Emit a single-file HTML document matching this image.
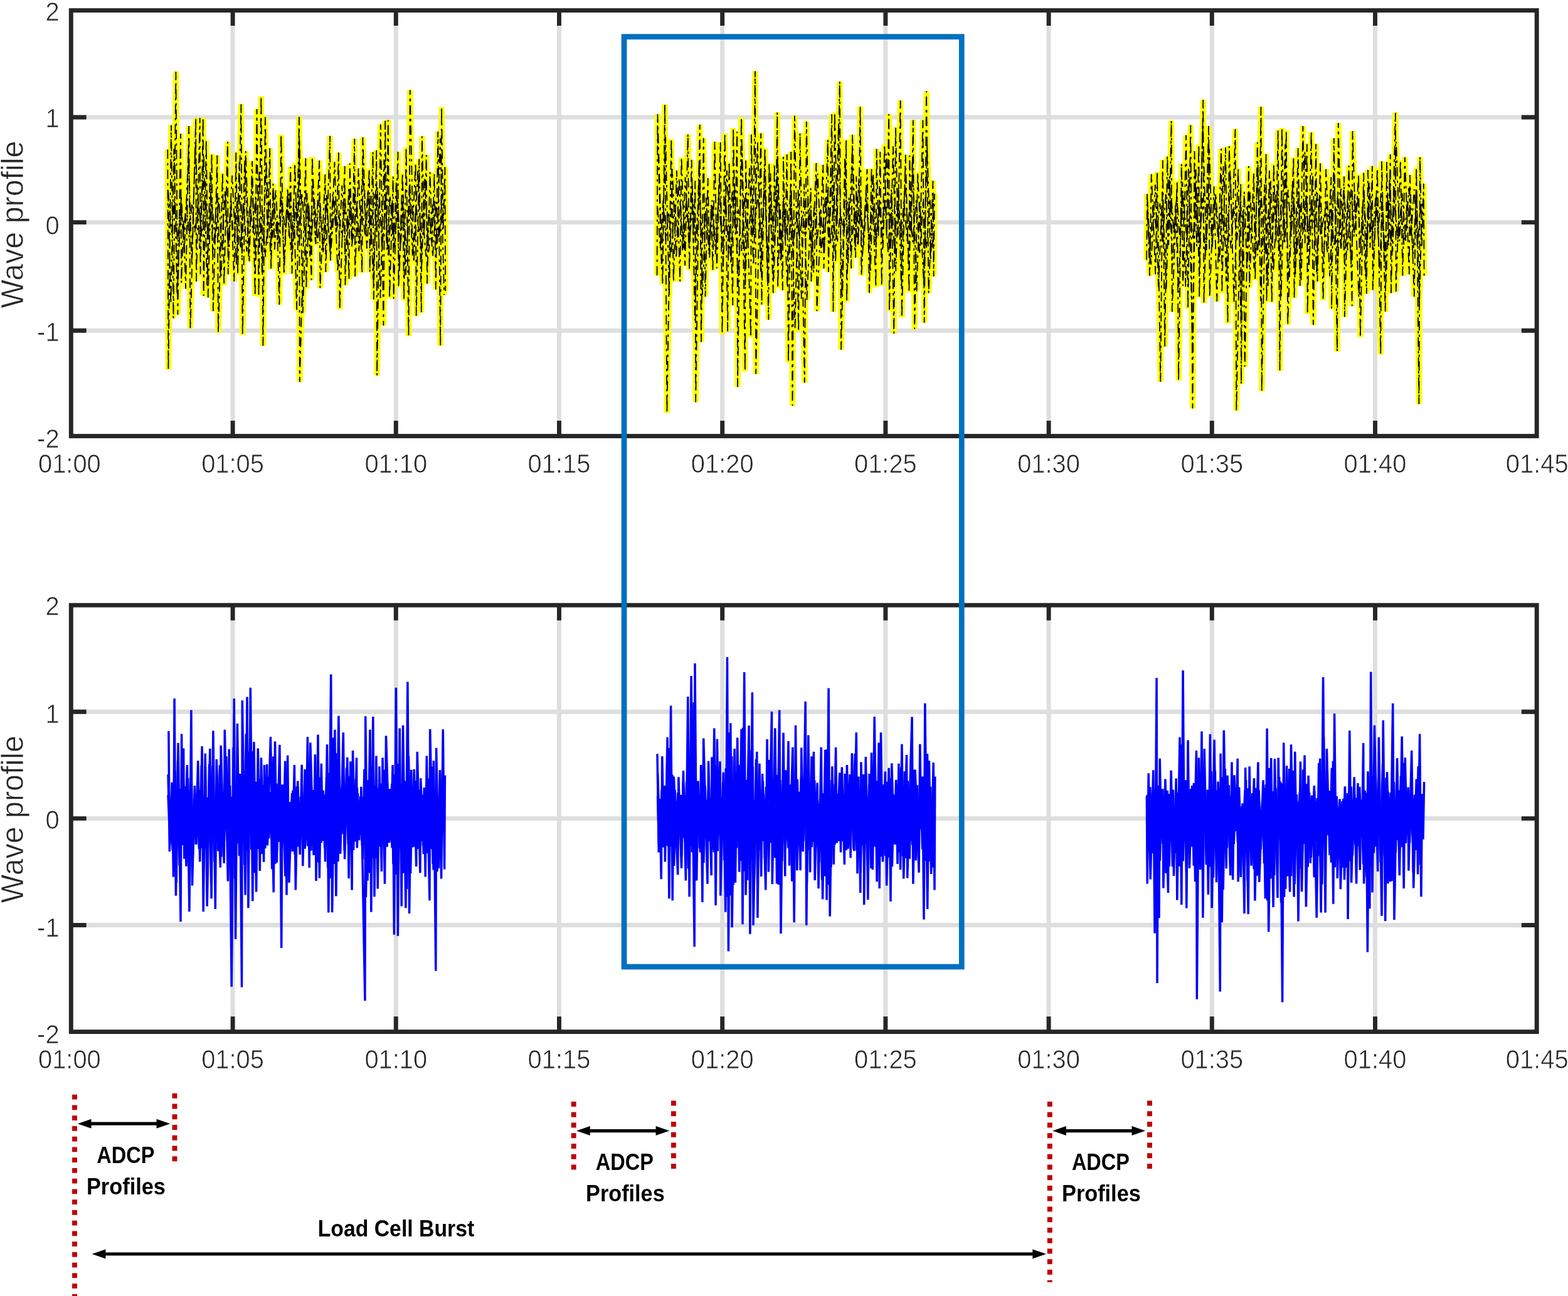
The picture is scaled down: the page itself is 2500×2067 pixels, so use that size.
<!DOCTYPE html>
<html lang="en"><head><meta charset="utf-8"><title>Wave profile bursts</title>
<style>html,body{margin:0;padding:0;background:#fff}body{width:2500px;height:2067px;overflow:hidden}svg{display:block}text{font-family:"Liberation Sans",sans-serif}.tk{font-size:42px;fill:#262626;stroke:#fff;stroke-width:.7px}.lb{font-size:50px;fill:#262626;stroke:#fff;stroke-width:.7px}.an{font-weight:bold;fill:#000}</style>
</head><body>
<svg xmlns="http://www.w3.org/2000/svg" width="2500" height="2067" viewBox="0 0 2500 2067">
<rect width="2500" height="2067" fill="#fff"/>
<path d="M371.1 16.6V695.5M631.3 16.6V695.5M891.5 16.6V695.5M1151.7 16.6V695.5M1411.9 16.6V695.5M1672.1 16.6V695.5M1932.3 16.6V695.5M2192.5 16.6V695.5M113.3 187.0H2450.2M113.3 354.6H2450.2M113.3 527.3H2450.2" stroke="#dedede" stroke-width="6.9" fill="none"/>
<path d="M268.0 303.9 273.8 370.8 277.9 320.4 283.8 385.1 288.2 325.2 292.2 378.6 297.1 322.2 301.6 379.0 306.0 323.7 310.6 370.5 316.3 319.8 321.6 377.1 327.5 307.4 331.8 383.1 337.2 313.5 343.1 386.8 348.8 315.1 353.4 393.5 359.1 308.0 364.1 393.6 368.2 332.5 373.8 386.5 378.2 320.1 383.6 397.0 388.3 324.5 393.3 401.3 398.4 326.4 403.4 370.8 407.4 313.8 413.4 393.7 418.2 335.5 423.2 409.6 428.7 320.4 434.5 379.0 439.5 303.6 444.6 388.3 449.2 320.1 455.1 369.8 460.7 309.0 466.4 399.7 472.1 321.3 477.2 386.9 481.3 307.0 486.4 377.7 491.4 322.7 496.1 383.7 501.2 317.0 506.5 388.2 510.5 333.1 514.9 393.4 520.6 309.9 526.2 402.8 530.7 308.1 536.0 373.0 540.1 341.8 545.6 379.7 549.8 317.0 554.5 372.4 558.8 320.9 563.1 380.7 568.6 323.9 573.2 388.9 577.3 326.7 582.1 377.2 586.3 305.8 591.3 378.1 596.5 309.1 600.6 370.3 604.9 313.1 609.2 398.3 614.6 320.2 619.0 409.3 624.6 321.4 629.0 396.0 633.8 319.0 638.5 395.3 642.6 330.3 648.5 405.2 653.1 307.5 657.8 407.8 663.2 325.5 667.8 369.9 673.5 340.9 679.2 408.8 684.3 335.4 690.0 409.2 695.4 321.7 700.2 383.7 704.6 315.0M268.0 306.2 272.4 484.7 277.4 237.3 282.4 470.5 289.0 311.5 293.7 404.7 300.5 243.3 305.6 418.6 311.5 229.2 318.2 396.6 324.8 247.0 330.2 455.3 335.0 274.3 339.4 410.6 346.0 310.8 352.2 444.0 358.7 303.9 363.7 393.9 370.2 279.7 377.0 423.5 381.5 258.2 385.9 410.1 390.2 254.5 396.5 410.2 401.6 292.3 407.8 415.1 413.5 273.9 417.9 435.7 424.5 259.2 431.1 401.6 436.0 307.5 442.4 385.1 448.4 307.0 452.8 420.1 457.1 326.3 463.9 398.8 468.3 319.1 473.1 494.2 477.5 222.7 482.7 499.1 489.3 308.0 494.2 409.1 498.6 286.5 502.8 385.5 509.6 310.1 515.4 404.1 520.4 324.8 527.0 407.5 533.8 320.4 538.5 433.7 545.3 295.8 551.3 420.1 556.2 299.4 561.2 394.0 565.5 295.5 572.3 400.6 578.3 267.3 585.0 396.4 589.9 312.0 594.9 445.5 601.5 298.2 606.6 475.6 612.3 254.3 617.1 398.8 621.9 311.8 627.5 396.4 631.8 290.7 636.8 433.7 642.2 291.3 646.8 438.8 653.1 286.7 659.8 418.6 666.1 272.0 672.5 422.2 676.9 285.1 683.6 401.3 690.1 325.7 696.8 397.1 701.8 220.6 708.1 470.6M1048.6 331.9 1052.7 395.9 1057.5 319.2 1061.6 384.0 1065.9 337.3 1070.4 403.3 1075.2 326.1 1080.4 379.1 1084.5 320.9 1089.5 396.0 1094.3 314.5 1099.8 379.3 1104.8 322.9 1109.2 386.4 1114.4 305.5 1120.2 380.8 1125.5 340.5 1129.6 390.4 1135.4 335.9 1140.9 405.5 1145.5 314.2 1151.2 384.7 1156.6 312.4 1161.8 404.5 1167.6 303.3 1172.8 376.8 1177.3 333.6 1182.4 400.4 1186.5 314.7 1191.9 383.7 1197.0 335.7 1202.4 371.2 1208.4 309.5 1213.7 380.5 1219.5 303.3 1223.8 401.2 1229.4 315.6 1234.8 387.7 1240.7 302.9 1245.5 402.3 1250.3 335.7 1255.0 374.7 1260.8 303.3 1265.0 394.0 1269.8 337.6 1274.4 379.7 1279.9 342.3 1284.3 387.4 1288.4 316.9 1293.6 403.6 1298.0 330.8 1303.1 380.7 1308.2 332.2 1313.6 401.8 1319.2 302.8 1324.3 389.6 1330.0 311.1 1335.2 385.2 1339.7 338.0 1345.3 374.4 1350.8 320.2 1356.8 400.6 1362.7 336.9 1367.7 392.9 1372.3 321.9 1377.1 391.1 1381.1 324.4 1386.0 382.0 1390.8 310.5 1396.1 389.6 1401.4 327.0 1405.8 369.7 1410.4 318.1 1416.1 403.4 1421.2 302.2 1426.1 403.6 1430.9 312.1 1436.9 382.0 1441.2 317.2 1446.3 384.2 1450.3 326.6 1455.1 386.1 1460.9 318.6 1466.3 406.1 1471.8 322.4 1477.3 395.7 1482.6 316.8 1487.4 395.2M1048.6 214.0 1054.9 429.0 1061.1 218.8 1066.9 470.1 1071.8 269.5 1078.3 411.8 1082.8 284.1 1088.3 400.6 1092.6 282.5 1098.7 395.7 1103.8 293.8 1108.0 511.0 1114.7 257.4 1120.0 470.0 1125.8 315.1 1130.5 406.1 1135.3 319.2 1141.7 398.9 1146.9 280.9 1153.0 425.2 1158.9 271.9 1165.3 421.6 1171.1 291.9 1176.8 457.9 1183.1 231.9 1188.1 455.3 1194.9 268.0 1201.3 423.3 1207.9 227.2 1212.9 435.3 1219.1 267.5 1223.8 452.9 1228.4 276.4 1233.7 444.6 1239.8 246.6 1244.7 418.2 1249.2 316.1 1255.3 455.9 1261.5 305.5 1267.6 523.5 1272.5 301.0 1277.8 476.7 1282.2 293.3 1286.4 479.1 1293.0 331.9 1297.2 434.9 1303.6 276.8 1309.4 403.6 1315.8 315.2 1321.9 386.4 1327.1 256.3 1332.2 418.6 1337.0 194.7 1342.4 473.5 1347.1 250.4 1352.1 422.4 1358.8 236.7 1363.0 398.8 1369.5 284.9 1374.7 409.6 1381.3 305.0 1387.9 434.5 1392.4 276.9 1396.6 394.8 1402.5 318.0 1407.7 395.8 1413.1 245.2 1419.7 404.4 1424.0 233.3 1428.3 432.6 1432.7 293.2 1436.9 455.4 1443.1 277.4 1449.5 429.6 1454.7 256.7 1461.5 464.9 1466.3 318.7 1473.0 455.4 1478.1 231.1 1483.8 415.3 1488.1 323.7M1829.2 340.3 1833.4 402.7 1838.3 327.3 1844.3 371.2 1849.4 324.4 1853.6 385.7 1859.0 306.5 1863.1 390.9 1867.3 309.8 1871.4 371.0 1876.2 312.6 1880.8 374.9 1886.4 309.6 1892.1 381.9 1897.0 332.4 1902.1 383.0 1906.8 310.5 1912.7 393.4 1916.9 315.8 1921.8 409.8 1927.2 308.4 1932.6 391.4 1938.4 308.6 1943.0 376.0 1947.8 321.2 1952.0 383.6 1957.1 340.6 1962.7 396.1 1967.4 330.3 1972.1 382.8 1977.6 322.0 1982.6 375.6 1988.4 329.2 1993.1 372.4 1999.1 322.9 2004.9 407.4 2010.8 309.2 2016.7 407.1 2022.3 336.9 2027.3 393.0 2033.3 310.5 2038.7 400.0 2043.4 304.0 2048.7 386.0 2053.7 302.5 2058.7 376.4 2063.0 314.4 2068.1 406.5 2072.5 325.7 2078.0 371.6 2082.2 320.2 2086.7 373.9 2091.2 316.7 2096.3 372.8 2100.4 307.8 2105.7 376.6 2111.4 341.5 2116.2 404.1 2121.6 330.9 2127.4 393.9 2133.1 306.1 2138.0 397.1 2143.0 303.9 2148.6 399.1 2154.3 301.8 2158.8 377.8 2164.3 311.0 2169.3 389.4 2174.1 306.5 2179.7 393.4 2183.8 307.8 2188.7 377.3 2193.3 314.3 2197.3 374.5 2201.9 306.3 2207.4 409.1 2212.5 319.1 2217.6 391.0 2222.7 309.1 2228.6 386.2 2233.8 329.9 2238.4 390.2 2243.6 320.0 2249.6 376.2 2254.8 301.9 2260.3 392.6 2265.1 326.0M1829.2 316.4 1835.2 422.1 1841.9 294.4 1847.0 457.6 1853.3 305.7 1859.5 460.9 1864.6 280.6 1869.0 427.4 1874.3 326.8 1878.9 466.0 1885.4 290.4 1890.3 457.3 1895.1 268.9 1901.3 553.8 1906.6 270.0 1912.1 438.6 1917.5 198.5 1923.6 399.1 1928.1 236.9 1932.9 393.7 1937.7 316.8 1944.4 417.2 1950.6 265.0 1954.9 449.1 1961.8 278.5 1967.4 483.3 1974.1 269.0 1978.5 511.7 1983.8 305.6 1988.2 430.9 1993.1 306.4 1999.4 427.8 2005.7 262.8 2010.1 480.1 2016.1 294.1 2021.6 456.3 2026.0 288.6 2030.4 432.5 2037.1 297.1 2042.6 474.0 2049.2 229.7 2054.1 446.4 2060.7 289.4 2065.4 438.9 2070.5 286.2 2074.6 446.7 2080.5 241.9 2087.3 423.5 2092.9 280.1 2099.1 437.2 2103.9 310.7 2110.0 420.9 2114.5 321.0 2120.1 440.6 2126.9 275.6 2132.7 432.9 2137.9 300.7 2144.0 422.5 2148.7 312.0 2154.1 421.4 2159.9 307.8 2166.5 473.8 2172.1 329.6 2177.1 440.5 2183.0 291.2 2189.5 412.3 2195.0 313.7 2199.5 429.6 2204.3 321.6 2209.9 450.4 2215.6 283.4 2220.4 401.3 2226.1 226.3 2231.3 384.7 2235.5 308.3 2241.3 384.7 2246.1 299.7 2252.9 409.0 2258.7 303.4 2262.9 488.8 2267.4 320.5" fill="none" stroke="#ffff00" stroke-width="9.4" stroke-linejoin="bevel"/><path d="M267.3 238.6 268.4 589.6 273.0 199.4 276.5 507.8 280.4 114.2 283.4 502.0 288.0 213.3 289.2 451.3 292.6 350.3 296.1 460.6 301.2 201.1 303.5 523.9 312.2 188.6 313.0 449.0 318.7 187.9 319.5 437.5 323.8 187.9 324.6 472.1 328.8 223.6 331.8 474.4 337.6 245.5 339.9 496.3 346.3 247.8 348.0 530.8 354.9 275.5 357.2 454.8 362.9 225.9 363.7 437.5 368.5 320.0 373.3 449.0 376.3 243.2 379.1 437.5 384.4 166.0 386.7 534.3 391.7 240.9 397.5 416.8 402.1 257.1 406.7 472.1 409.5 174.1 412.5 473.2 416.4 153.3 419.4 551.6 422.9 186.8 426.5 388.4 430.2 236.3 432.1 429.4 435.5 292.8 437.8 398.3 441.6 345.2 445.4 485.9 448.2 214.9 452.8 437.5 458.6 299.7 460.9 377.0 463.2 266.3 465.5 436.4 470.1 260.5 473.6 375.1 477.0 186.3 477.8 609.2 487.4 252.4 488.2 460.6 492.4 328.4 496.6 446.7 497.8 250.1 503.5 389.5 509.3 255.9 510.4 459.4 518.5 277.8 519.3 434.0 526.1 216.7 526.9 415.6 533.5 258.2 536.7 360.0 539.9 243.2 541.6 493.3 549.6 265.1 550.4 454.8 553.5 354.8 556.5 445.6 557.7 260.5 561.5 391.5 565.3 221.3 566.1 441.0 571.5 268.6 577.3 435.2 578.4 219.0 583.6 374.4 588.8 269.7 589.6 434.0 594.6 242.1 595.7 477.8 600.3 239.8 601.1 598.8 606.8 198.3 611.4 519.3 614.2 192.5 616.5 388.3 618.8 191.4 621.1 475.5 626.8 281.3 627.6 476.7 634.4 242.1 635.4 458.2 641.8 275.5 644.1 479.0 647.6 235.2 651.5 536.1 653.8 143.4 658.2 356.1 662.6 260.5 663.7 504.3 668.3 253.6 671.8 498.6 672.9 217.2 676.4 374.9 679.8 247.1 681.0 452.5 685.6 274.3 689.1 386.6 692.5 276.6 694.8 461.7 698.3 209.8 702.2 551.6 704.0 170.6 706.7 365.7 709.4 266.3 710.2 464.0M1047.6 439.3 1048.4 182.2 1056.5 453.6 1060.0 166.5 1063.4 658.8 1070.3 222.0 1073.8 449.0 1078.9 272.0 1084.2 449.0 1086.5 251.3 1092.2 423.7 1096.8 214.0 1099.1 431.1 1102.6 254.8 1105.5 387.7 1108.4 288.2 1109.2 641.5 1115.7 198.7 1118.0 545.4 1121.7 220.2 1124.5 473.2 1128.6 284.0 1131.4 411.0 1133.9 326.7 1136.5 431.7 1139.5 225.9 1142.9 428.3 1148.7 227.1 1151.5 533.2 1155.6 212.6 1160.2 528.5 1162.5 258.2 1168.3 487.1 1169.1 204.0 1172.1 363.6 1175.2 209.8 1176.0 617.3 1182.1 186.8 1187.9 592.4 1189.0 255.9 1197.1 537.8 1197.9 214.4 1201.0 374.4 1204.0 113.5 1205.2 596.5 1213.2 212.6 1214.4 485.9 1219.5 236.3 1225.4 510.1 1226.2 260.5 1232.8 467.5 1234.7 261.0 1237.0 362.7 1239.3 179.2 1240.1 459.4 1243.9 325.7 1247.8 462.9 1249.0 250.1 1251.8 384.3 1254.7 246.2 1257.0 578.1 1261.2 242.1 1263.5 647.2 1266.9 184.5 1273.2 528.5 1275.5 212.1 1282.8 610.4 1285.8 193.7 1289.3 366.7 1292.7 299.7 1293.5 449.0 1301.5 260.1 1302.4 496.3 1312.3 262.8 1313.5 428.3 1319.9 222.5 1320.9 434.0 1326.2 182.2 1328.5 497.4 1330.8 179.8 1334.8 358.7 1338.8 129.8 1341.1 557.8 1349.2 222.5 1350.0 481.3 1353.6 315.1 1357.3 428.3 1359.1 214.9 1364.2 411.0 1365.3 281.3 1368.5 390.3 1371.6 169.5 1373.4 439.8 1382.6 269.7 1386.1 467.0 1389.5 268.6 1396.5 458.2 1397.6 237.5 1400.5 379.3 1403.4 242.1 1405.7 455.9 1410.3 230.6 1413.7 379.0 1417.2 181.7 1418.0 496.3 1421.6 319.9 1425.3 532.0 1428.0 202.9 1431.8 375.2 1435.6 160.3 1437.9 506.6 1443.7 246.7 1449.5 466.3 1450.3 247.8 1453.1 372.8 1455.9 191.4 1458.2 525.1 1463.3 275.5 1467.3 370.4 1471.4 191.4 1473.7 514.7 1477.1 145.3 1480.6 467.5 1487.5 288.2 1488.6 441.0 1490.0 308.9M1828.2 414.5 1829.0 309.4 1833.0 439.8 1835.8 277.8 1842.3 437.5 1845.0 274.3 1850.3 609.2 1853.8 255.4 1857.2 552.7 1861.2 249.0 1864.4 364.5 1867.6 192.5 1868.8 497.4 1876.8 288.2 1879.1 606.9 1883.8 261.0 1886.1 455.9 1891.1 215.6 1894.1 492.8 1898.3 199.4 1901.5 651.4 1904.5 240.9 1908.0 393.3 1911.4 230.6 1912.2 474.4 1918.3 159.1 1919.5 483.6 1927.1 201.1 1928.7 473.2 1935.6 297.4 1940.2 480.8 1947.1 237.0 1948.3 467.5 1954.0 235.2 1957.5 515.9 1959.8 232.9 1964.6 374.0 1969.5 205.7 1971.3 655.3 1978.2 292.8 1979.0 612.7 1981.9 327.9 1984.7 585.0 1990.9 265.1 1992.1 458.2 1999.0 275.5 2001.3 446.7 2004.8 227.1 2007.6 386.3 2010.5 170.2 2011.7 624.2 2018.6 245.5 2019.4 481.3 2023.9 272.0 2027.8 482.4 2030.8 260.5 2034.3 387.5 2037.7 207.5 2040.5 591.5 2043.9 204.0 2047.4 386.6 2050.8 207.5 2053.2 518.2 2062.4 251.3 2063.5 475.5 2069.7 236.3 2072.7 455.9 2077.4 201.1 2080.6 387.9 2083.8 229.4 2084.6 500.9 2090.7 210.3 2093.9 518.2 2098.1 229.4 2100.4 449.0 2105.0 260.5 2109.6 479.0 2114.2 269.7 2118.3 366.7 2122.3 282.4 2123.1 492.8 2126.9 220.2 2132.0 560.8 2133.8 196.0 2138.4 397.4 2143.0 281.3 2143.8 505.5 2150.6 264.0 2155.7 488.2 2156.5 209.1 2161.3 362.4 2166.1 279.0 2168.9 537.8 2174.2 275.5 2178.8 468.6 2181.1 270.9 2184.5 395.0 2188.0 264.7 2188.8 462.9 2196.0 268.6 2201.3 565.4 2203.0 257.1 2208.7 497.4 2211.0 258.2 2213.9 392.3 2216.8 246.2 2217.9 467.5 2224.9 179.8 2225.7 465.2 2232.9 255.9 2236.4 439.8 2239.8 250.8 2246.8 437.5 2247.9 279.0 2254.8 473.2 2258.3 267.4 2262.4 644.5 2264.0 250.1 2266.9 392.2 2269.8 292.8 2270.6 439.8" fill="none" stroke="#ffff00" stroke-width="9.4" stroke-linejoin="bevel"/><path d="M268.0 303.9 273.8 370.8 277.9 320.4 283.8 385.1 288.2 325.2 292.2 378.6 297.1 322.2 301.6 379.0 306.0 323.7 310.6 370.5 316.3 319.8 321.6 377.1 327.5 307.4 331.8 383.1 337.2 313.5 343.1 386.8 348.8 315.1 353.4 393.5 359.1 308.0 364.1 393.6 368.2 332.5 373.8 386.5 378.2 320.1 383.6 397.0 388.3 324.5 393.3 401.3 398.4 326.4 403.4 370.8 407.4 313.8 413.4 393.7 418.2 335.5 423.2 409.6 428.7 320.4 434.5 379.0 439.5 303.6 444.6 388.3 449.2 320.1 455.1 369.8 460.7 309.0 466.4 399.7 472.1 321.3 477.2 386.9 481.3 307.0 486.4 377.7 491.4 322.7 496.1 383.7 501.2 317.0 506.5 388.2 510.5 333.1 514.9 393.4 520.6 309.9 526.2 402.8 530.7 308.1 536.0 373.0 540.1 341.8 545.6 379.7 549.8 317.0 554.5 372.4 558.8 320.9 563.1 380.7 568.6 323.9 573.2 388.9 577.3 326.7 582.1 377.2 586.3 305.8 591.3 378.1 596.5 309.1 600.6 370.3 604.9 313.1 609.2 398.3 614.6 320.2 619.0 409.3 624.6 321.4 629.0 396.0 633.8 319.0 638.5 395.3 642.6 330.3 648.5 405.2 653.1 307.5 657.8 407.8 663.2 325.5 667.8 369.9 673.5 340.9 679.2 408.8 684.3 335.4 690.0 409.2 695.4 321.7 700.2 383.7 704.6 315.0M268.0 306.2 272.4 484.7 277.4 237.3 282.4 470.5 289.0 311.5 293.7 404.7 300.5 243.3 305.6 418.6 311.5 229.2 318.2 396.6 324.8 247.0 330.2 455.3 335.0 274.3 339.4 410.6 346.0 310.8 352.2 444.0 358.7 303.9 363.7 393.9 370.2 279.7 377.0 423.5 381.5 258.2 385.9 410.1 390.2 254.5 396.5 410.2 401.6 292.3 407.8 415.1 413.5 273.9 417.9 435.7 424.5 259.2 431.1 401.6 436.0 307.5 442.4 385.1 448.4 307.0 452.8 420.1 457.1 326.3 463.9 398.8 468.3 319.1 473.1 494.2 477.5 222.7 482.7 499.1 489.3 308.0 494.2 409.1 498.6 286.5 502.8 385.5 509.6 310.1 515.4 404.1 520.4 324.8 527.0 407.5 533.8 320.4 538.5 433.7 545.3 295.8 551.3 420.1 556.2 299.4 561.2 394.0 565.5 295.5 572.3 400.6 578.3 267.3 585.0 396.4 589.9 312.0 594.9 445.5 601.5 298.2 606.6 475.6 612.3 254.3 617.1 398.8 621.9 311.8 627.5 396.4 631.8 290.7 636.8 433.7 642.2 291.3 646.8 438.8 653.1 286.7 659.8 418.6 666.1 272.0 672.5 422.2 676.9 285.1 683.6 401.3 690.1 325.7 696.8 397.1 701.8 220.6 708.1 470.6M1048.6 331.9 1052.7 395.9 1057.5 319.2 1061.6 384.0 1065.9 337.3 1070.4 403.3 1075.2 326.1 1080.4 379.1 1084.5 320.9 1089.5 396.0 1094.3 314.5 1099.8 379.3 1104.8 322.9 1109.2 386.4 1114.4 305.5 1120.2 380.8 1125.5 340.5 1129.6 390.4 1135.4 335.9 1140.9 405.5 1145.5 314.2 1151.2 384.7 1156.6 312.4 1161.8 404.5 1167.6 303.3 1172.8 376.8 1177.3 333.6 1182.4 400.4 1186.5 314.7 1191.9 383.7 1197.0 335.7 1202.4 371.2 1208.4 309.5 1213.7 380.5 1219.5 303.3 1223.8 401.2 1229.4 315.6 1234.8 387.7 1240.7 302.9 1245.5 402.3 1250.3 335.7 1255.0 374.7 1260.8 303.3 1265.0 394.0 1269.8 337.6 1274.4 379.7 1279.9 342.3 1284.3 387.4 1288.4 316.9 1293.6 403.6 1298.0 330.8 1303.1 380.7 1308.2 332.2 1313.6 401.8 1319.2 302.8 1324.3 389.6 1330.0 311.1 1335.2 385.2 1339.7 338.0 1345.3 374.4 1350.8 320.2 1356.8 400.6 1362.7 336.9 1367.7 392.9 1372.3 321.9 1377.1 391.1 1381.1 324.4 1386.0 382.0 1390.8 310.5 1396.1 389.6 1401.4 327.0 1405.8 369.7 1410.4 318.1 1416.1 403.4 1421.2 302.2 1426.1 403.6 1430.9 312.1 1436.9 382.0 1441.2 317.2 1446.3 384.2 1450.3 326.6 1455.1 386.1 1460.9 318.6 1466.3 406.1 1471.8 322.4 1477.3 395.7 1482.6 316.8 1487.4 395.2M1048.6 214.0 1054.9 429.0 1061.1 218.8 1066.9 470.1 1071.8 269.5 1078.3 411.8 1082.8 284.1 1088.3 400.6 1092.6 282.5 1098.7 395.7 1103.8 293.8 1108.0 511.0 1114.7 257.4 1120.0 470.0 1125.8 315.1 1130.5 406.1 1135.3 319.2 1141.7 398.9 1146.9 280.9 1153.0 425.2 1158.9 271.9 1165.3 421.6 1171.1 291.9 1176.8 457.9 1183.1 231.9 1188.1 455.3 1194.9 268.0 1201.3 423.3 1207.9 227.2 1212.9 435.3 1219.1 267.5 1223.8 452.9 1228.4 276.4 1233.7 444.6 1239.8 246.6 1244.7 418.2 1249.2 316.1 1255.3 455.9 1261.5 305.5 1267.6 523.5 1272.5 301.0 1277.8 476.7 1282.2 293.3 1286.4 479.1 1293.0 331.9 1297.2 434.9 1303.6 276.8 1309.4 403.6 1315.8 315.2 1321.9 386.4 1327.1 256.3 1332.2 418.6 1337.0 194.7 1342.4 473.5 1347.1 250.4 1352.1 422.4 1358.8 236.7 1363.0 398.8 1369.5 284.9 1374.7 409.6 1381.3 305.0 1387.9 434.5 1392.4 276.9 1396.6 394.8 1402.5 318.0 1407.7 395.8 1413.1 245.2 1419.7 404.4 1424.0 233.3 1428.3 432.6 1432.7 293.2 1436.9 455.4 1443.1 277.4 1449.5 429.6 1454.7 256.7 1461.5 464.9 1466.3 318.7 1473.0 455.4 1478.1 231.1 1483.8 415.3 1488.1 323.7M1829.2 340.3 1833.4 402.7 1838.3 327.3 1844.3 371.2 1849.4 324.4 1853.6 385.7 1859.0 306.5 1863.1 390.9 1867.3 309.8 1871.4 371.0 1876.2 312.6 1880.8 374.9 1886.4 309.6 1892.1 381.9 1897.0 332.4 1902.1 383.0 1906.8 310.5 1912.7 393.4 1916.9 315.8 1921.8 409.8 1927.2 308.4 1932.6 391.4 1938.4 308.6 1943.0 376.0 1947.8 321.2 1952.0 383.6 1957.1 340.6 1962.7 396.1 1967.4 330.3 1972.1 382.8 1977.6 322.0 1982.6 375.6 1988.4 329.2 1993.1 372.4 1999.1 322.9 2004.9 407.4 2010.8 309.2 2016.7 407.1 2022.3 336.9 2027.3 393.0 2033.3 310.5 2038.7 400.0 2043.4 304.0 2048.7 386.0 2053.7 302.5 2058.7 376.4 2063.0 314.4 2068.1 406.5 2072.5 325.7 2078.0 371.6 2082.2 320.2 2086.7 373.9 2091.2 316.7 2096.3 372.8 2100.4 307.8 2105.7 376.6 2111.4 341.5 2116.2 404.1 2121.6 330.9 2127.4 393.9 2133.1 306.1 2138.0 397.1 2143.0 303.9 2148.6 399.1 2154.3 301.8 2158.8 377.8 2164.3 311.0 2169.3 389.4 2174.1 306.5 2179.7 393.4 2183.8 307.8 2188.7 377.3 2193.3 314.3 2197.3 374.5 2201.9 306.3 2207.4 409.1 2212.5 319.1 2217.6 391.0 2222.7 309.1 2228.6 386.2 2233.8 329.9 2238.4 390.2 2243.6 320.0 2249.6 376.2 2254.8 301.9 2260.3 392.6 2265.1 326.0M1829.2 316.4 1835.2 422.1 1841.9 294.4 1847.0 457.6 1853.3 305.7 1859.5 460.9 1864.6 280.6 1869.0 427.4 1874.3 326.8 1878.9 466.0 1885.4 290.4 1890.3 457.3 1895.1 268.9 1901.3 553.8 1906.6 270.0 1912.1 438.6 1917.5 198.5 1923.6 399.1 1928.1 236.9 1932.9 393.7 1937.7 316.8 1944.4 417.2 1950.6 265.0 1954.9 449.1 1961.8 278.5 1967.4 483.3 1974.1 269.0 1978.5 511.7 1983.8 305.6 1988.2 430.9 1993.1 306.4 1999.4 427.8 2005.7 262.8 2010.1 480.1 2016.1 294.1 2021.6 456.3 2026.0 288.6 2030.4 432.5 2037.1 297.1 2042.6 474.0 2049.2 229.7 2054.1 446.4 2060.7 289.4 2065.4 438.9 2070.5 286.2 2074.6 446.7 2080.5 241.9 2087.3 423.5 2092.9 280.1 2099.1 437.2 2103.9 310.7 2110.0 420.9 2114.5 321.0 2120.1 440.6 2126.9 275.6 2132.7 432.9 2137.9 300.7 2144.0 422.5 2148.7 312.0 2154.1 421.4 2159.9 307.8 2166.5 473.8 2172.1 329.6 2177.1 440.5 2183.0 291.2 2189.5 412.3 2195.0 313.7 2199.5 429.6 2204.3 321.6 2209.9 450.4 2215.6 283.4 2220.4 401.3 2226.1 226.3 2231.3 384.7 2235.5 308.3 2241.3 384.7 2246.1 299.7 2252.9 409.0 2258.7 303.4 2262.9 488.8 2267.4 320.5" fill="none" stroke="#000" stroke-width="1.8" stroke-linejoin="bevel" stroke-dasharray="15 6.5 4 6.5"/><path d="M267.3 238.6 268.4 589.6 273.0 199.4 276.5 507.8 280.4 114.2 283.4 502.0 288.0 213.3 289.2 451.3 292.6 350.3 296.1 460.6 301.2 201.1 303.5 523.9 312.2 188.6 313.0 449.0 318.7 187.9 319.5 437.5 323.8 187.9 324.6 472.1 328.8 223.6 331.8 474.4 337.6 245.5 339.9 496.3 346.3 247.8 348.0 530.8 354.9 275.5 357.2 454.8 362.9 225.9 363.7 437.5 368.5 320.0 373.3 449.0 376.3 243.2 379.1 437.5 384.4 166.0 386.7 534.3 391.7 240.9 397.5 416.8 402.1 257.1 406.7 472.1 409.5 174.1 412.5 473.2 416.4 153.3 419.4 551.6 422.9 186.8 426.5 388.4 430.2 236.3 432.1 429.4 435.5 292.8 437.8 398.3 441.6 345.2 445.4 485.9 448.2 214.9 452.8 437.5 458.6 299.7 460.9 377.0 463.2 266.3 465.5 436.4 470.1 260.5 473.6 375.1 477.0 186.3 477.8 609.2 487.4 252.4 488.2 460.6 492.4 328.4 496.6 446.7 497.8 250.1 503.5 389.5 509.3 255.9 510.4 459.4 518.5 277.8 519.3 434.0 526.1 216.7 526.9 415.6 533.5 258.2 536.7 360.0 539.9 243.2 541.6 493.3 549.6 265.1 550.4 454.8 553.5 354.8 556.5 445.6 557.7 260.5 561.5 391.5 565.3 221.3 566.1 441.0 571.5 268.6 577.3 435.2 578.4 219.0 583.6 374.4 588.8 269.7 589.6 434.0 594.6 242.1 595.7 477.8 600.3 239.8 601.1 598.8 606.8 198.3 611.4 519.3 614.2 192.5 616.5 388.3 618.8 191.4 621.1 475.5 626.8 281.3 627.6 476.7 634.4 242.1 635.4 458.2 641.8 275.5 644.1 479.0 647.6 235.2 651.5 536.1 653.8 143.4 658.2 356.1 662.6 260.5 663.7 504.3 668.3 253.6 671.8 498.6 672.9 217.2 676.4 374.9 679.8 247.1 681.0 452.5 685.6 274.3 689.1 386.6 692.5 276.6 694.8 461.7 698.3 209.8 702.2 551.6 704.0 170.6 706.7 365.7 709.4 266.3 710.2 464.0M1047.6 439.3 1048.4 182.2 1056.5 453.6 1060.0 166.5 1063.4 658.8 1070.3 222.0 1073.8 449.0 1078.9 272.0 1084.2 449.0 1086.5 251.3 1092.2 423.7 1096.8 214.0 1099.1 431.1 1102.6 254.8 1105.5 387.7 1108.4 288.2 1109.2 641.5 1115.7 198.7 1118.0 545.4 1121.7 220.2 1124.5 473.2 1128.6 284.0 1131.4 411.0 1133.9 326.7 1136.5 431.7 1139.5 225.9 1142.9 428.3 1148.7 227.1 1151.5 533.2 1155.6 212.6 1160.2 528.5 1162.5 258.2 1168.3 487.1 1169.1 204.0 1172.1 363.6 1175.2 209.8 1176.0 617.3 1182.1 186.8 1187.9 592.4 1189.0 255.9 1197.1 537.8 1197.9 214.4 1201.0 374.4 1204.0 113.5 1205.2 596.5 1213.2 212.6 1214.4 485.9 1219.5 236.3 1225.4 510.1 1226.2 260.5 1232.8 467.5 1234.7 261.0 1237.0 362.7 1239.3 179.2 1240.1 459.4 1243.9 325.7 1247.8 462.9 1249.0 250.1 1251.8 384.3 1254.7 246.2 1257.0 578.1 1261.2 242.1 1263.5 647.2 1266.9 184.5 1273.2 528.5 1275.5 212.1 1282.8 610.4 1285.8 193.7 1289.3 366.7 1292.7 299.7 1293.5 449.0 1301.5 260.1 1302.4 496.3 1312.3 262.8 1313.5 428.3 1319.9 222.5 1320.9 434.0 1326.2 182.2 1328.5 497.4 1330.8 179.8 1334.8 358.7 1338.8 129.8 1341.1 557.8 1349.2 222.5 1350.0 481.3 1353.6 315.1 1357.3 428.3 1359.1 214.9 1364.2 411.0 1365.3 281.3 1368.5 390.3 1371.6 169.5 1373.4 439.8 1382.6 269.7 1386.1 467.0 1389.5 268.6 1396.5 458.2 1397.6 237.5 1400.5 379.3 1403.4 242.1 1405.7 455.9 1410.3 230.6 1413.7 379.0 1417.2 181.7 1418.0 496.3 1421.6 319.9 1425.3 532.0 1428.0 202.9 1431.8 375.2 1435.6 160.3 1437.9 506.6 1443.7 246.7 1449.5 466.3 1450.3 247.8 1453.1 372.8 1455.9 191.4 1458.2 525.1 1463.3 275.5 1467.3 370.4 1471.4 191.4 1473.7 514.7 1477.1 145.3 1480.6 467.5 1487.5 288.2 1488.6 441.0 1490.0 308.9M1828.2 414.5 1829.0 309.4 1833.0 439.8 1835.8 277.8 1842.3 437.5 1845.0 274.3 1850.3 609.2 1853.8 255.4 1857.2 552.7 1861.2 249.0 1864.4 364.5 1867.6 192.5 1868.8 497.4 1876.8 288.2 1879.1 606.9 1883.8 261.0 1886.1 455.9 1891.1 215.6 1894.1 492.8 1898.3 199.4 1901.5 651.4 1904.5 240.9 1908.0 393.3 1911.4 230.6 1912.2 474.4 1918.3 159.1 1919.5 483.6 1927.1 201.1 1928.7 473.2 1935.6 297.4 1940.2 480.8 1947.1 237.0 1948.3 467.5 1954.0 235.2 1957.5 515.9 1959.8 232.9 1964.6 374.0 1969.5 205.7 1971.3 655.3 1978.2 292.8 1979.0 612.7 1981.9 327.9 1984.7 585.0 1990.9 265.1 1992.1 458.2 1999.0 275.5 2001.3 446.7 2004.8 227.1 2007.6 386.3 2010.5 170.2 2011.7 624.2 2018.6 245.5 2019.4 481.3 2023.9 272.0 2027.8 482.4 2030.8 260.5 2034.3 387.5 2037.7 207.5 2040.5 591.5 2043.9 204.0 2047.4 386.6 2050.8 207.5 2053.2 518.2 2062.4 251.3 2063.5 475.5 2069.7 236.3 2072.7 455.9 2077.4 201.1 2080.6 387.9 2083.8 229.4 2084.6 500.9 2090.7 210.3 2093.9 518.2 2098.1 229.4 2100.4 449.0 2105.0 260.5 2109.6 479.0 2114.2 269.7 2118.3 366.7 2122.3 282.4 2123.1 492.8 2126.9 220.2 2132.0 560.8 2133.8 196.0 2138.4 397.4 2143.0 281.3 2143.8 505.5 2150.6 264.0 2155.7 488.2 2156.5 209.1 2161.3 362.4 2166.1 279.0 2168.9 537.8 2174.2 275.5 2178.8 468.6 2181.1 270.9 2184.5 395.0 2188.0 264.7 2188.8 462.9 2196.0 268.6 2201.3 565.4 2203.0 257.1 2208.7 497.4 2211.0 258.2 2213.9 392.3 2216.8 246.2 2217.9 467.5 2224.9 179.8 2225.7 465.2 2232.9 255.9 2236.4 439.8 2239.8 250.8 2246.8 437.5 2247.9 279.0 2254.8 473.2 2258.3 267.4 2262.4 644.5 2264.0 250.1 2266.9 392.2 2269.8 292.8 2270.6 439.8" fill="none" stroke="#000" stroke-width="1.8" stroke-linejoin="bevel" stroke-dasharray="15 6.5 4 6.5"/>
<path d="M371.1 695.5v-24.4M371.1 16.6v24.4M631.3 695.5v-24.4M631.3 16.6v24.4M891.5 695.5v-24.4M891.5 16.6v24.4M1151.7 695.5v-24.4M1151.7 16.6v24.4M1411.9 695.5v-24.4M1411.9 16.6v24.4M1672.1 695.5v-24.4M1672.1 16.6v24.4M1932.3 695.5v-24.4M1932.3 16.6v24.4M2192.5 695.5v-24.4M2192.5 16.6v24.4M113.3 187.0h24.4M2450.2 187.0h-24.4M113.3 354.6h24.4M2450.2 354.6h-24.4M113.3 527.3h24.4M2450.2 527.3h-24.4" stroke="#262626" stroke-width="6.9" fill="none"/>
<rect x="113.3" y="16.6" width="2336.9" height="678.9" fill="none" stroke="#262626" stroke-width="6.9"/>
<text class="tk" x="72.4" y="33.2" textLength="22.2" lengthAdjust="spacingAndGlyphs">2</text>
<text class="tk" x="72.4" y="203.3" textLength="22.2" lengthAdjust="spacingAndGlyphs">1</text>
<text class="tk" x="72.4" y="373.5" textLength="22.2" lengthAdjust="spacingAndGlyphs">0</text>
<text class="tk" x="59.1" y="543.6" textLength="35.5" lengthAdjust="spacingAndGlyphs">-1</text>
<text class="tk" x="59.1" y="714.4" textLength="35.5" lengthAdjust="spacingAndGlyphs">-2</text>
<text class="tk" x="61.0" y="753.8" textLength="99.8" lengthAdjust="spacingAndGlyphs">01:00</text>
<text class="tk" x="321.2" y="753.8" textLength="99.8" lengthAdjust="spacingAndGlyphs">01:05</text>
<text class="tk" x="581.4" y="753.8" textLength="99.8" lengthAdjust="spacingAndGlyphs">01:10</text>
<text class="tk" x="841.6" y="753.8" textLength="99.8" lengthAdjust="spacingAndGlyphs">01:15</text>
<text class="tk" x="1101.8" y="753.8" textLength="99.8" lengthAdjust="spacingAndGlyphs">01:20</text>
<text class="tk" x="1362.0" y="753.8" textLength="99.8" lengthAdjust="spacingAndGlyphs">01:25</text>
<text class="tk" x="1622.2" y="753.8" textLength="99.8" lengthAdjust="spacingAndGlyphs">01:30</text>
<text class="tk" x="1882.4" y="753.8" textLength="99.8" lengthAdjust="spacingAndGlyphs">01:35</text>
<text class="tk" x="2142.6" y="753.8" textLength="99.8" lengthAdjust="spacingAndGlyphs">01:40</text>
<text class="tk" x="2400.8" y="753.8" textLength="99.8" lengthAdjust="spacingAndGlyphs">01:45</text>
<text class="lb" transform="translate(36.6 358.1) rotate(-90)" x="-133.5" y="0" textLength="267.0" lengthAdjust="spacingAndGlyphs">Wave profile</text>
<path d="M371.1 965.2V1645.6M631.3 965.2V1645.6M891.5 965.2V1645.6M1151.7 965.2V1645.6M1411.9 965.2V1645.6M1672.1 965.2V1645.6M1932.3 965.2V1645.6M2192.5 965.2V1645.6M113.3 1135.2H2450.2M113.3 1305.4H2450.2M113.3 1475.5H2450.2" stroke="#dedede" stroke-width="6.9" fill="none"/>
<path d="M268.0 1267.7 270.4 1327.8 272.6 1275.0 275.1 1356.3 277.8 1269.9 280.1 1331.5 282.0 1287.5 284.2 1333.2 286.4 1258.1 288.8 1341.5 290.8 1287.6 292.9 1327.1 295.3 1254.4 297.7 1328.6 300.4 1261.3 302.9 1353.3 305.4 1261.5 307.6 1355.8 310.3 1282.9 312.9 1346.7 315.1 1270.3 317.4 1353.9 319.7 1260.1 321.9 1352.4 324.6 1272.7 326.9 1353.7 329.4 1271.8 331.5 1333.5 333.9 1282.7 336.6 1331.5 339.3 1277.9 342.0 1346.4 344.3 1270.8 346.8 1342.4 348.9 1281.3 351.2 1354.2 353.6 1285.8 356.2 1347.1 358.9 1281.9 361.4 1324.4 363.9 1279.1 365.9 1352.2 367.8 1270.6 370.5 1330.7 372.5 1258.4 374.7 1346.8 376.6 1276.1 378.6 1345.3 380.5 1255.9 382.4 1347.2 384.2 1279.7 386.8 1327.8 388.8 1264.9 391.0 1323.9 393.8 1283.2 395.7 1334.1 398.1 1263.1 400.0 1333.9 401.9 1273.1 404.4 1347.6 407.1 1262.7 409.7 1346.4 412.0 1280.7 414.4 1333.2 416.4 1273.2 419.0 1326.7 421.4 1275.0 423.7 1327.3 426.4 1279.6 428.8 1336.7 430.7 1269.4 432.7 1324.3 434.5 1282.9 436.5 1344.0 438.8 1254.9 441.5 1356.2 443.5 1273.3 445.6 1342.5 448.0 1261.2 450.5 1331.1 452.7 1270.5 454.6 1323.6 456.8 1284.6 459.3 1330.6 461.2 1282.2 463.3 1329.8 465.6 1272.6 467.7 1344.2 469.8 1257.5 472.5 1347.2 474.7 1271.0 477.1 1324.2 479.3 1270.5 481.3 1325.6 483.9 1275.9 486.2 1353.8 488.6 1278.5 491.4 1335.1 493.2 1265.1 495.2 1332.8 497.8 1265.5 499.6 1337.8 501.8 1271.9 503.9 1342.4 505.8 1278.7 508.0 1354.2 509.9 1262.7 511.9 1341.9 514.1 1272.6 516.6 1335.8 518.6 1284.2 520.5 1351.3 522.9 1255.7 525.4 1323.2 527.8 1261.9 530.4 1339.4 532.5 1272.8 535.1 1331.6 537.4 1272.1 540.1 1349.8 542.8 1259.9 544.9 1330.3 547.2 1279.6 549.5 1345.5 552.2 1268.5 554.7 1325.7 556.9 1254.4 558.9 1336.6 560.8 1285.5 563.5 1356.0 565.9 1284.0 568.0 1330.3 570.5 1265.2 572.7 1340.2 574.7 1270.0 577.4 1348.1 579.3 1270.8 581.8 1331.2 584.5 1272.7 586.9 1336.2 589.7 1261.8 592.1 1327.3 594.3 1287.4 596.7 1352.4 598.7 1271.0 601.0 1336.2 603.5 1256.5 606.0 1338.5 608.7 1277.1 611.2 1344.8 613.8 1259.4 615.8 1343.5 618.0 1265.7 620.8 1344.0 622.6 1272.6 625.1 1352.5 627.5 1260.6 629.4 1354.5 631.9 1267.8 634.6 1352.5 636.5 1260.6 639.1 1329.2 641.6 1268.4 643.6 1349.8 645.6 1267.6 647.8 1331.0 650.2 1272.5 652.2 1355.3 654.1 1288.3 656.4 1350.9 658.8 1262.7 661.1 1345.4 663.3 1279.3 665.6 1323.3 667.5 1262.7 669.5 1347.9 672.0 1274.6 674.5 1349.2 677.1 1283.8 679.1 1335.4 681.4 1278.4 683.3 1341.4 686.0 1275.9 688.3 1335.4 690.6 1258.8 692.7 1344.5 695.0 1270.1 697.7 1325.0 700.3 1278.0 702.7 1349.5 705.1 1275.0 707.7 1325.6M268.0 1235.2 270.8 1347.0 273.9 1266.0 276.3 1344.1 278.9 1229.0 281.3 1407.7 283.5 1212.9 286.1 1380.8 288.5 1260.5 291.2 1348.0 293.8 1257.3 297.0 1381.8 299.6 1240.9 302.9 1370.7 305.1 1234.2 307.4 1368.7 309.9 1274.7 313.0 1324.2 316.1 1246.5 318.7 1355.6 321.2 1220.9 324.4 1388.6 327.4 1223.0 330.4 1401.8 333.6 1218.8 336.6 1409.5 339.1 1221.0 342.0 1374.6 344.6 1266.4 347.9 1357.4 350.5 1220.2 352.8 1366.6 355.0 1265.1 357.5 1340.9 360.8 1206.2 363.8 1364.9 366.6 1252.9 369.7 1436.9 372.1 1191.9 374.4 1401.5 377.7 1250.5 379.9 1343.7 382.2 1265.5 384.6 1411.8 387.0 1225.1 389.8 1379.1 392.3 1170.6 394.4 1356.6 397.6 1198.7 400.7 1355.3 403.4 1198.2 405.9 1392.1 408.8 1246.8 412.1 1354.0 414.8 1242.2 417.2 1362.0 420.1 1252.3 422.8 1353.3 426.2 1238.6 428.8 1337.2 431.6 1263.3 433.7 1386.3 435.9 1206.6 438.9 1377.6 441.0 1249.8 444.1 1342.6 446.3 1251.4 448.5 1382.2 451.5 1282.6 454.8 1397.4 456.9 1231.1 459.2 1366.3 462.0 1279.1 464.7 1327.5 467.0 1260.5 470.1 1362.9 473.1 1254.3 475.3 1350.4 477.5 1279.8 479.7 1331.5 481.8 1270.5 484.3 1353.0 487.5 1232.9 490.5 1349.4 493.8 1258.0 495.9 1356.7 498.8 1260.0 501.3 1338.1 503.9 1246.5 506.5 1375.1 509.6 1239.8 512.3 1344.2 515.3 1260.9 517.7 1352.9 520.6 1239.1 522.7 1383.7 525.0 1232.8 527.8 1400.6 530.7 1176.5 533.7 1378.0 535.7 1201.4 538.9 1374.2 541.7 1255.1 544.0 1326.0 546.9 1224.6 549.2 1356.7 552.5 1224.6 555.2 1346.6 557.5 1237.8 560.4 1354.9 563.7 1242.2 566.3 1342.3 569.3 1256.0 572.2 1318.6 575.2 1281.6 578.4 1370.3 580.9 1226.8 583.4 1431.0 586.7 1244.2 589.8 1392.3 592.9 1223.3 595.5 1368.4 598.2 1253.2 600.4 1369.0 602.7 1256.3 605.5 1350.2 607.8 1249.6 611.0 1344.7 613.8 1227.7 617.0 1350.7 619.5 1274.4 622.6 1339.0 624.7 1250.3 627.0 1378.1 629.4 1235.3 632.4 1394.7 635.1 1218.3 638.2 1353.8 641.0 1251.1 643.2 1392.4 645.8 1245.6 648.6 1418.1 651.5 1205.8 654.6 1392.9 656.8 1269.9 660.1 1350.5 662.4 1245.1 665.7 1353.9 668.6 1259.0 671.0 1341.4 673.1 1267.8 675.3 1362.1 677.8 1269.4 681.2 1360.7 683.8 1241.6 686.2 1354.1 688.9 1223.0 691.0 1387.4 694.0 1271.0 697.0 1390.3 699.7 1274.8 702.4 1357.5 705.5 1226.5M1048.6 1269.4 1050.5 1345.2 1052.8 1283.6 1054.9 1344.9 1057.2 1256.3 1059.3 1334.0 1062.0 1267.8 1064.0 1349.1 1066.2 1256.2 1068.6 1349.8 1071.2 1271.1 1074.0 1323.3 1076.1 1259.9 1078.0 1345.3 1080.7 1264.1 1083.4 1325.0 1085.7 1267.7 1087.9 1336.7 1090.5 1282.9 1092.4 1342.6 1095.1 1260.3 1097.6 1332.4 1100.3 1287.0 1102.3 1349.2 1105.0 1274.7 1107.7 1326.2 1110.0 1286.1 1112.1 1328.9 1113.9 1274.6 1116.2 1332.0 1118.7 1286.6 1121.0 1340.4 1123.2 1257.3 1125.2 1336.9 1127.4 1275.7 1130.2 1341.9 1132.5 1273.4 1134.7 1354.8 1137.3 1266.4 1139.3 1342.6 1141.2 1276.5 1143.1 1346.4 1145.8 1266.7 1148.2 1330.9 1150.5 1272.6 1152.7 1331.6 1154.7 1262.9 1157.4 1350.3 1159.9 1287.4 1162.0 1351.0 1164.7 1269.8 1167.1 1345.8 1169.1 1264.2 1171.3 1351.2 1173.6 1265.8 1175.9 1340.6 1178.2 1256.0 1180.7 1336.7 1183.0 1257.8 1185.6 1344.6 1188.3 1284.4 1190.7 1343.6 1192.9 1255.6 1195.7 1335.7 1198.1 1262.3 1200.6 1334.8 1203.1 1276.5 1205.1 1345.0 1207.5 1274.5 1209.8 1356.0 1212.4 1274.5 1215.1 1341.8 1217.3 1266.4 1219.9 1352.9 1222.3 1265.7 1224.5 1323.8 1226.8 1284.5 1229.5 1334.7 1231.9 1263.4 1233.9 1350.8 1236.0 1285.7 1238.4 1336.1 1241.1 1273.3 1243.1 1323.0 1244.9 1271.6 1247.4 1324.2 1249.6 1272.1 1252.2 1355.4 1254.9 1266.7 1257.2 1330.0 1259.6 1282.7 1261.8 1350.7 1264.1 1263.7 1266.4 1331.9 1268.7 1268.9 1270.8 1351.2 1273.5 1282.2 1275.6 1350.0 1278.1 1280.7 1280.4 1330.5 1283.1 1268.4 1285.4 1327.9 1287.6 1272.3 1289.8 1328.5 1291.8 1264.6 1294.5 1351.1 1296.9 1261.5 1298.9 1329.6 1301.3 1288.3 1303.3 1348.9 1305.3 1282.1 1307.5 1350.9 1309.3 1258.5 1311.5 1341.8 1313.7 1284.2 1316.5 1328.4 1319.0 1258.5 1321.3 1355.1 1323.2 1283.4 1325.5 1325.0 1328.1 1270.5 1330.6 1332.2 1332.5 1258.1 1334.5 1336.6 1336.5 1268.4 1338.8 1329.1 1340.6 1276.9 1343.2 1327.6 1345.2 1267.3 1347.7 1349.8 1350.1 1259.5 1352.1 1353.8 1353.9 1284.3 1355.9 1348.8 1358.2 1257.0 1360.9 1354.8 1363.3 1276.4 1366.0 1347.3 1368.1 1269.6 1369.9 1323.0 1372.4 1263.9 1375.0 1348.0 1377.0 1263.3 1379.7 1345.4 1382.0 1278.4 1383.9 1343.7 1386.6 1284.5 1389.2 1353.0 1391.4 1259.6 1393.3 1332.6 1395.7 1258.5 1398.0 1325.4 1400.7 1268.9 1403.3 1330.2 1405.4 1285.3 1407.5 1337.3 1409.7 1266.0 1412.3 1333.8 1415.0 1266.2 1417.1 1328.7 1419.8 1266.0 1421.7 1345.7 1423.9 1274.1 1426.5 1330.0 1428.5 1270.0 1431.2 1325.3 1433.8 1263.9 1435.8 1344.9 1438.2 1264.2 1440.6 1333.1 1442.9 1280.3 1445.1 1336.2 1447.1 1280.5 1449.2 1335.8 1451.6 1263.0 1453.7 1341.3 1455.8 1280.7 1457.8 1355.1 1460.5 1260.1 1462.5 1327.5 1464.4 1278.2 1466.6 1322.7 1468.9 1264.9 1471.5 1328.9 1473.3 1261.3 1475.5 1333.1 1477.5 1279.3 1479.6 1331.2 1481.6 1270.8 1484.2 1332.9 1486.4 1271.9M1048.6 1233.7 1052.0 1333.7 1055.1 1260.3 1057.9 1351.5 1060.7 1271.6 1062.8 1333.0 1066.1 1193.0 1068.7 1350.1 1071.9 1235.5 1074.6 1380.9 1076.8 1277.9 1079.9 1369.2 1083.3 1269.7 1086.6 1366.2 1089.3 1247.5 1091.6 1337.0 1094.7 1245.7 1097.4 1385.3 1100.3 1215.8 1103.4 1359.3 1106.2 1120.2 1109.0 1374.2 1112.4 1249.3 1115.4 1352.7 1118.7 1247.3 1121.9 1376.3 1124.2 1253.7 1126.6 1339.6 1129.5 1258.6 1132.7 1336.1 1135.8 1261.6 1138.3 1359.3 1141.6 1220.5 1144.3 1357.5 1146.3 1254.4 1149.7 1373.5 1152.6 1247.8 1154.7 1372.2 1157.3 1225.4 1159.8 1430.4 1162.0 1168.3 1164.5 1428.3 1166.7 1206.2 1169.3 1411.2 1172.7 1234.7 1174.7 1352.5 1178.0 1219.8 1181.1 1373.1 1184.4 1160.8 1187.2 1389.4 1189.4 1243.9 1191.7 1404.0 1194.9 1196.2 1198.1 1361.7 1200.2 1222.6 1202.2 1407.2 1205.5 1211.1 1207.7 1407.9 1210.6 1248.2 1213.2 1347.0 1216.4 1245.6 1219.4 1369.3 1221.5 1254.7 1223.8 1346.1 1226.1 1212.1 1229.1 1344.2 1232.3 1256.9 1235.6 1368.3 1238.5 1236.1 1241.5 1411.0 1243.8 1244.0 1246.9 1373.5 1249.0 1230.3 1251.3 1345.5 1253.7 1274.3 1256.9 1352.7 1259.8 1251.4 1262.8 1405.6 1266.2 1263.2 1268.7 1347.8 1271.3 1242.7 1274.2 1345.5 1277.5 1238.4 1280.9 1341.4 1283.8 1241.6 1286.5 1407.5 1288.8 1222.4 1291.0 1356.1 1293.9 1250.9 1296.1 1342.7 1298.7 1244.5 1301.3 1347.1 1303.7 1276.6 1306.0 1374.7 1308.6 1255.2 1310.6 1403.4 1312.7 1265.3 1315.1 1397.5 1318.4 1195.2 1320.7 1411.2 1322.8 1244.3 1325.0 1383.0 1327.8 1250.3 1331.1 1346.9 1334.1 1265.1 1337.4 1341.7 1340.5 1278.9 1343.5 1341.9 1346.3 1273.4 1349.4 1356.0 1352.4 1269.5 1355.4 1327.3 1358.4 1272.7 1360.4 1324.7 1363.3 1202.0 1366.0 1356.8 1368.8 1256.0 1372.1 1392.2 1374.6 1277.9 1377.8 1366.5 1380.9 1233.6 1383.1 1357.7 1385.7 1251.4 1388.9 1384.9 1391.3 1226.3 1394.5 1350.3 1397.3 1245.6 1400.5 1362.2 1403.2 1221.5 1405.6 1366.2 1408.3 1251.3 1411.3 1364.9 1414.3 1246.7 1417.4 1367.8 1420.3 1241.3 1422.4 1382.1 1425.1 1267.0 1427.3 1347.1 1430.3 1251.0 1433.7 1359.3 1436.9 1223.5 1439.2 1365.8 1442.4 1230.3 1444.8 1368.7 1447.3 1245.6 1450.3 1369.7 1452.5 1209.8 1454.6 1347.4 1457.8 1227.5 1460.1 1372.4 1462.4 1252.2 1464.9 1335.2 1467.5 1241.6 1470.7 1354.6 1473.1 1264.5 1475.4 1373.0 1478.5 1202.2 1480.9 1374.2 1483.6 1254.8 1486.9 1383.7M1829.2 1267.6 1831.6 1343.8 1833.8 1255.2 1836.2 1343.8 1838.1 1279.9 1840.5 1354.9 1843.0 1286.5 1845.6 1329.6 1848.0 1281.9 1849.8 1348.7 1852.1 1267.8 1854.6 1342.6 1856.8 1277.4 1859.2 1330.8 1861.3 1260.8 1863.4 1346.9 1865.9 1272.6 1868.4 1333.7 1870.3 1259.5 1872.8 1347.5 1875.5 1274.5 1877.7 1343.3 1880.4 1278.8 1882.9 1355.0 1885.0 1287.8 1887.0 1344.4 1889.0 1256.1 1890.9 1352.9 1893.1 1257.1 1895.3 1326.2 1897.7 1278.2 1900.4 1350.4 1902.5 1271.7 1904.8 1348.7 1906.9 1269.1 1909.2 1342.4 1911.6 1273.7 1913.8 1335.9 1916.5 1270.6 1918.5 1335.8 1921.0 1265.2 1922.9 1336.5 1925.2 1259.6 1927.3 1353.6 1929.9 1287.7 1932.2 1340.5 1934.6 1258.2 1936.6 1350.6 1938.5 1260.0 1940.5 1323.3 1943.1 1255.4 1945.6 1348.9 1947.8 1280.0 1950.2 1349.9 1952.3 1275.6 1954.4 1331.4 1957.0 1288.2 1958.9 1328.7 1961.5 1269.0 1964.0 1346.1 1966.7 1268.4 1968.5 1325.9 1970.7 1284.4 1972.9 1331.8 1975.6 1255.6 1978.1 1336.7 1980.3 1286.0 1982.5 1327.3 1984.9 1260.6 1987.1 1346.4 1989.7 1257.3 1991.9 1330.5 1994.6 1271.4 1996.7 1345.7 1999.3 1254.9 2001.5 1331.4 2003.5 1278.2 2005.6 1353.7 2008.0 1286.7 2009.9 1328.7 2012.7 1276.7 2015.3 1330.1 2017.3 1256.3 2019.2 1339.4 2021.5 1276.9 2024.0 1351.5 2026.1 1278.1 2028.4 1338.7 2030.8 1262.0 2033.0 1354.4 2035.2 1287.4 2037.4 1340.4 2039.5 1258.5 2041.8 1340.1 2043.9 1283.9 2046.0 1344.2 2048.5 1265.1 2050.4 1348.9 2052.9 1265.2 2055.2 1351.5 2057.9 1268.5 2060.1 1340.8 2062.7 1265.4 2065.3 1332.9 2067.7 1280.4 2070.0 1322.9 2072.4 1263.6 2075.0 1338.9 2077.7 1281.6 2079.5 1341.2 2081.7 1274.9 2084.1 1348.1 2086.7 1277.4 2089.1 1343.8 2091.6 1268.5 2093.8 1349.9 2095.7 1261.6 2097.7 1328.6 2100.1 1272.9 2102.3 1325.1 2104.2 1279.3 2106.1 1346.1 2108.1 1275.4 2110.4 1346.4 2113.0 1266.9 2115.0 1327.1 2117.3 1275.9 2119.9 1329.8 2122.3 1276.2 2124.4 1328.6 2127.0 1271.2 2129.3 1350.7 2131.2 1269.8 2133.3 1330.7 2135.9 1280.1 2138.1 1337.2 2140.1 1277.8 2141.9 1339.4 2144.4 1254.4 2147.1 1333.7 2149.8 1284.8 2151.8 1340.4 2154.3 1268.2 2156.1 1336.3 2158.4 1275.2 2161.0 1347.7 2162.9 1272.6 2165.4 1349.2 2167.8 1255.1 2170.3 1335.8 2172.9 1267.6 2175.3 1342.6 2177.9 1264.3 2180.1 1349.2 2182.3 1263.2 2185.0 1340.4 2187.0 1257.6 2189.0 1329.6 2190.9 1274.1 2193.1 1350.2 2195.1 1275.6 2197.7 1323.2 2199.9 1283.3 2202.4 1332.6 2204.4 1284.6 2206.5 1346.3 2208.4 1287.0 2210.5 1323.8 2213.0 1262.6 2215.3 1333.8 2217.2 1264.1 2219.2 1341.1 2222.0 1280.2 2224.5 1337.3 2226.8 1274.6 2229.3 1340.1 2231.1 1260.5 2233.2 1334.3 2235.5 1268.2 2238.0 1326.4 2240.2 1267.3 2242.5 1330.7 2245.1 1255.6 2247.5 1340.6 2249.5 1272.1 2252.0 1333.2 2254.3 1273.2 2256.4 1343.4 2258.5 1257.0 2261.1 1332.9 2263.0 1287.6 2265.6 1336.8 2267.6 1286.8M1829.2 1286.7 1832.5 1353.7 1835.4 1269.4 1838.3 1360.6 1840.7 1258.7 1842.8 1433.8 1846.1 1252.9 1849.3 1372.7 1851.6 1283.1 1854.1 1345.7 1856.8 1273.9 1859.0 1392.8 1861.8 1274.4 1864.2 1382.0 1867.1 1251.5 1869.4 1382.3 1872.1 1294.2 1875.3 1360.5 1878.6 1263.7 1880.7 1381.6 1883.5 1187.2 1886.3 1373.5 1889.4 1251.4 1891.6 1391.8 1894.1 1232.5 1896.4 1340.1 1898.7 1258.3 1900.8 1345.0 1903.4 1248.9 1905.6 1406.2 1908.7 1251.7 1912.0 1367.4 1914.7 1247.2 1917.1 1353.9 1920.2 1234.3 1923.3 1379.2 1925.6 1282.3 1928.9 1382.4 1931.3 1230.0 1934.4 1399.8 1937.3 1228.7 1939.4 1343.5 1941.4 1270.1 1944.1 1379.6 1947.2 1239.7 1950.2 1418.9 1953.3 1226.0 1956.2 1352.1 1959.2 1252.1 1961.7 1370.7 1963.9 1253.7 1967.2 1346.1 1970.4 1260.3 1973.4 1343.5 1975.5 1281.5 1978.3 1399.0 1981.1 1290.8 1983.7 1389.3 1986.6 1244.3 1989.1 1404.5 1991.6 1269.6 1993.7 1354.7 1996.6 1265.1 1999.2 1386.2 2001.8 1256.9 2004.6 1396.6 2007.1 1260.0 2010.2 1354.4 2013.3 1275.6 2015.5 1376.9 2018.3 1251.3 2020.7 1436.5 2023.4 1224.9 2026.0 1401.3 2028.4 1268.2 2031.5 1396.1 2034.0 1256.5 2036.7 1347.9 2039.6 1239.0 2042.5 1439.6 2044.7 1249.2 2047.5 1430.8 2050.8 1265.8 2052.9 1397.5 2055.7 1226.0 2058.5 1397.1 2061.3 1229.0 2064.2 1410.1 2067.3 1267.1 2069.9 1371.9 2072.1 1264.8 2074.9 1385.5 2077.6 1227.5 2080.1 1345.9 2082.9 1250.2 2085.2 1382.6 2087.5 1263.7 2090.2 1367.8 2093.0 1280.4 2095.3 1399.3 2098.7 1279.5 2101.5 1365.1 2104.7 1209.7 2107.9 1410.4 2110.5 1174.7 2112.6 1358.7 2115.4 1229.2 2117.8 1332.3 2119.9 1261.0 2122.4 1375.8 2125.4 1213.7 2128.4 1383.4 2131.5 1301.3 2134.5 1368.3 2137.4 1288.0 2140.0 1383.8 2143.1 1292.1 2146.3 1383.6 2148.4 1274.7 2151.7 1373.6 2154.3 1254.5 2156.5 1364.8 2159.2 1263.0 2162.1 1347.1 2165.1 1276.1 2167.7 1339.0 2170.6 1275.9 2173.6 1378.5 2176.1 1260.7 2179.0 1399.3 2181.0 1230.3 2184.3 1382.5 2187.5 1238.0 2190.4 1360.5 2193.2 1235.4 2196.2 1340.4 2198.6 1238.2 2201.2 1375.5 2204.5 1218.1 2207.3 1364.6 2210.1 1240.6 2213.0 1409.1 2215.9 1294.3 2219.1 1405.0 2222.4 1247.1 2225.3 1359.6 2227.7 1237.4 2230.9 1362.6 2233.4 1237.7 2235.8 1351.2 2238.1 1216.8 2241.4 1344.8 2244.6 1282.9 2247.6 1344.4 2250.3 1230.8 2253.3 1391.6 2255.4 1267.6 2257.9 1355.7 2261.3 1222.1 2264.4 1379.2 2267.5 1276.4" fill="none" stroke="#0000ff" stroke-width="3.5" stroke-linejoin="bevel"/><path d="M268.9 1166.0 270.3 1358.3 274.2 1247.8 276.5 1398.6 278.1 1114.1 280.4 1428.6 284.1 1184.9 288.0 1470.1 289.6 1170.6 291.1 1346.1 292.6 1193.6 293.8 1369.8 298.4 1220.1 301.9 1453.9 304.9 1132.6 306.5 1412.4 310.4 1253.1 312.2 1346.8 315.7 1213.2 318.7 1374.4 322.1 1190.2 324.2 1453.9 327.2 1201.7 330.2 1445.4 334.8 1194.1 337.1 1433.2 339.9 1165.5 343.3 1450.0 345.2 1210.9 351.4 1383.6 352.2 1189.0 357.2 1376.7 358.3 1163.7 363.4 1405.5 365.2 1194.8 369.2 1573.8 373.3 1114.1 375.6 1497.7 378.4 1154.0 381.4 1365.2 382.5 1234.0 385.5 1574.5 386.3 1117.1 391.1 1427.4 394.0 1111.4 395.9 1448.2 399.3 1096.8 402.8 1437.3 404.9 1183.3 408.6 1422.4 411.3 1193.6 414.3 1388.9 416.4 1208.6 420.6 1374.9 421.4 1220.1 423.5 1345.7 425.6 1219.0 426.4 1348.4 431.4 1175.2 436.2 1423.3 438.5 1182.6 441.3 1375.6 445.9 1187.9 448.7 1512.0 450.1 1251.3 452.4 1307.8 454.7 1213.7 457.0 1427.4 458.6 1204.7 460.9 1407.8 465.5 1265.1 466.3 1358.3 469.4 1220.1 471.3 1419.4 474.7 1245.5 478.2 1362.9 481.2 1219.7 482.8 1381.3 486.2 1227.1 488.3 1309.0 490.4 1175.2 493.2 1384.1 494.8 1184.4 500.1 1364.0 502.4 1203.3 504.0 1405.1 507.0 1171.7 509.3 1400.5 512.3 1217.8 514.6 1340.9 516.9 1267.4 518.5 1374.4 521.5 1187.2 523.8 1455.5 527.7 1075.6 529.6 1455.1 533.9 1163.7 535.8 1429.3 539.9 1141.8 542.7 1361.7 547.3 1168.3 549.6 1370.3 553.8 1207.9 556.1 1400.9 558.8 1214.4 561.1 1419.4 562.5 1197.1 565.5 1336.7 568.5 1208.6 569.3 1352.5 572.1 1276.9 575.0 1331.8 575.8 1254.7 581.9 1596.1 582.7 1142.2 586.0 1404.4 590.0 1163.7 591.8 1454.6 594.8 1142.9 596.9 1430.2 599.9 1205.6 602.2 1417.5 604.9 1222.4 608.4 1389.9 610.0 1208.6 613.5 1409.7 615.5 1173.6 620.6 1339.8 621.5 1258.2 623.8 1318.5 626.1 1220.1 628.4 1490.8 631.4 1096.8 634.4 1492.7 637.2 1161.4 640.2 1445.4 642.5 1156.8 646.9 1448.2 649.9 1087.6 652.6 1456.9 655.6 1227.7 657.9 1351.4 660.2 1227.1 663.7 1382.0 665.3 1198.9 669.9 1392.2 670.8 1241.3 673.6 1331.2 676.4 1255.9 678.2 1398.6 680.3 1205.6 684.9 1436.2 685.7 1163.0 690.2 1377.9 691.4 1213.2 694.8 1548.4 695.6 1192.9 699.4 1384.8 701.3 1228.2 703.6 1401.4 706.3 1163.2 708.6 1386.4 709.4 1236.7M1048.0 1202.4 1050.3 1359.4 1052.2 1274.2 1054.2 1402.1 1055.8 1206.3 1057.7 1314.8 1059.5 1253.1 1060.4 1374.4 1064.1 1175.7 1066.9 1433.2 1069.6 1125.6 1072.2 1436.2 1074.3 1238.6 1080.7 1395.2 1081.9 1239.3 1086.5 1384.8 1089.5 1229.4 1093.4 1404.4 1096.8 1111.1 1099.1 1430.2 1102.1 1077.9 1107.2 1509.9 1108.0 1058.1 1110.7 1404.4 1113.0 1245.5 1116.4 1359.4 1117.6 1220.1 1119.9 1439.0 1121.7 1177.5 1128.0 1409.7 1129.6 1213.7 1134.2 1396.3 1135.0 1207.5 1136.9 1306.5 1138.8 1161.4 1141.1 1444.0 1143.4 1178.7 1145.7 1325.7 1148.0 1214.4 1148.8 1428.6 1153.3 1231.7 1156.8 1454.6 1159.5 1048.0 1161.4 1517.3 1164.8 1153.3 1167.1 1479.3 1171.1 1194.1 1172.4 1407.8 1175.7 1176.4 1178.7 1390.6 1182.1 1163.0 1184.0 1474.2 1186.7 1071.9 1189.0 1427.4 1194.1 1157.2 1195.9 1489.7 1199.4 1104.2 1201.0 1475.8 1206.8 1198.9 1207.9 1463.8 1210.9 1217.8 1213.7 1397.9 1215.5 1234.0 1220.8 1419.4 1223.1 1179.1 1225.4 1390.6 1230.5 1134.9 1231.3 1410.1 1235.8 1161.4 1238.6 1409.5 1242.7 1132.6 1245.0 1489.0 1249.0 1168.7 1251.7 1397.5 1252.5 1228.2 1254.8 1310.9 1257.0 1182.1 1258.6 1380.6 1263.9 1191.8 1266.2 1471.2 1268.5 1156.8 1270.8 1388.2 1274.3 1262.8 1276.1 1388.2 1277.8 1192.5 1280.1 1358.3 1284.2 1118.7 1285.8 1475.8 1288.8 1172.4 1291.6 1391.2 1293.9 1206.3 1295.6 1311.4 1297.4 1198.9 1299.2 1403.9 1303.1 1248.5 1305.0 1417.1 1309.3 1191.8 1311.6 1434.3 1315.8 1195.9 1318.1 1435.5 1321.1 1097.5 1323.2 1461.5 1326.9 1222.4 1329.2 1378.6 1332.6 1192.0 1334.2 1344.5 1338.8 1232.4 1340.5 1359.4 1342.3 1223.6 1346.4 1379.0 1347.2 1234.0 1348.8 1319.1 1350.4 1220.1 1352.7 1328.3 1355.0 1235.1 1356.1 1368.2 1358.4 1201.2 1361.9 1357.1 1365.3 1168.3 1367.0 1393.3 1368.8 1238.6 1371.8 1424.0 1372.9 1215.5 1374.9 1331.6 1376.9 1235.1 1377.7 1443.1 1380.3 1207.0 1383.8 1435.0 1386.1 1234.0 1387.8 1332.9 1389.5 1200.6 1391.4 1387.1 1394.2 1142.9 1398.1 1406.2 1401.1 1184.4 1402.2 1417.1 1404.5 1168.3 1407.5 1374.4 1411.4 1230.5 1413.7 1412.4 1417.2 1224.8 1420.0 1437.8 1421.8 1217.4 1425.3 1345.5 1428.7 1243.9 1431.0 1377.9 1432.9 1217.8 1435.6 1387.1 1437.9 1186.7 1440.7 1401.4 1445.5 1204.0 1446.7 1400.5 1454.1 1143.4 1455.9 1409.7 1459.1 1227.7 1465.1 1391.7 1466.8 1186.7 1468.7 1309.7 1470.7 1238.6 1473.0 1466.6 1474.8 1121.7 1478.7 1450.0 1481.3 1213.2 1484.7 1394.0 1488.2 1216.2 1490.0 1419.4 1490.8 1238.6M1828.4 1269.7 1829.2 1409.5 1831.2 1233.3 1834.2 1402.5 1838.8 1228.2 1841.1 1488.5 1844.1 1081.2 1845.0 1568.0 1846.5 1288.0 1848.0 1464.3 1849.2 1209.8 1851.5 1327.9 1853.8 1258.2 1854.9 1416.4 1857.9 1242.5 1862.5 1424.0 1863.3 1266.2 1865.3 1333.0 1867.2 1228.7 1868.9 1328.0 1870.6 1287.0 1871.4 1397.0 1875.2 1241.6 1876.8 1435.5 1881.0 1175.7 1883.8 1443.1 1886.1 1069.2 1888.1 1340.3 1890.2 1244.3 1891.8 1448.6 1894.1 1180.5 1896.4 1384.8 1900.6 1253.1 1903.3 1380.6 1907.5 1197.1 1908.3 1593.8 1911.4 1208.6 1913.7 1387.1 1916.0 1166.4 1917.9 1463.8 1920.2 1194.3 1922.5 1309.6 1924.8 1290.4 1926.4 1426.7 1929.4 1171.1 1932.2 1448.2 1936.1 1179.8 1939.5 1407.1 1942.1 1246.6 1945.3 1581.4 1946.1 1201.7 1948.3 1471.2 1951.3 1164.8 1955.2 1385.3 1957.0 1236.7 1961.7 1396.3 1964.0 1215.5 1965.6 1403.2 1967.9 1236.3 1970.5 1325.0 1973.2 1209.8 1974.1 1406.2 1977.8 1289.3 1979.4 1340.7 1981.0 1281.2 1984.0 1456.9 1985.6 1224.3 1990.2 1457.9 1992.1 1222.4 1995.1 1380.6 1999.5 1241.3 2000.8 1436.6 2005.9 1215.5 2007.7 1406.7 2014.0 1244.3 2017.4 1433.2 2020.2 1161.8 2022.7 1486.2 2026.6 1209.1 2030.1 1447.0 2032.4 1210.2 2037.0 1432.0 2038.2 1208.6 2039.9 1312.7 2041.6 1246.6 2044.6 1598.4 2046.7 1184.4 2049.7 1417.7 2051.5 1221.3 2056.6 1422.4 2058.5 1187.4 2063.1 1430.4 2064.7 1198.7 2066.4 1312.8 2068.1 1277.8 2070.0 1469.4 2073.4 1214.4 2075.5 1422.1 2080.1 1204.5 2082.4 1446.3 2086.1 1237.0 2089.3 1376.7 2090.7 1283.5 2093.0 1331.6 2095.3 1253.1 2099.2 1463.8 2102.7 1217.1 2106.2 1455.5 2109.6 1080.0 2113.1 1455.5 2115.4 1194.3 2120.0 1364.0 2123.4 1224.8 2125.8 1441.7 2127.6 1137.9 2129.6 1311.6 2131.5 1297.4 2132.3 1400.9 2136.1 1274.3 2137.3 1418.2 2141.9 1273.8 2143.5 1403.2 2148.3 1265.1 2149.1 1466.1 2151.8 1165.3 2154.6 1407.8 2159.2 1239.3 2162.6 1409.5 2164.9 1249.0 2168.4 1387.6 2169.5 1284.7 2171.6 1328.6 2173.7 1185.1 2174.6 1409.5 2178.3 1267.4 2180.4 1518.5 2182.1 1300.1 2183.8 1449.3 2185.7 1071.5 2188.0 1423.3 2191.4 1156.8 2196.7 1389.9 2198.4 1175.9 2203.0 1460.8 2205.3 1148.7 2208.7 1468.9 2211.5 1231.2 2213.6 1313.3 2215.6 1290.4 2216.8 1406.2 2220.7 1121.7 2223.0 1467.1 2227.6 1209.3 2231.3 1396.3 2235.2 1174.5 2238.2 1417.1 2240.3 1208.2 2242.7 1319.6 2245.1 1281.2 2245.9 1388.7 2250.7 1197.1 2253.7 1416.4 2258.3 1242.5 2260.6 1394.5 2263.6 1170.6 2265.9 1430.2 2267.5 1266.2 2269.0 1338.7 2270.6 1247.1" fill="none" stroke="#0000ff" stroke-width="3.5" stroke-linejoin="bevel"/>
<path d="M371.1 1645.6v-24.4M371.1 965.2v24.4M631.3 1645.6v-24.4M631.3 965.2v24.4M891.5 1645.6v-24.4M891.5 965.2v24.4M1151.7 1645.6v-24.4M1151.7 965.2v24.4M1411.9 1645.6v-24.4M1411.9 965.2v24.4M1672.1 1645.6v-24.4M1672.1 965.2v24.4M1932.3 1645.6v-24.4M1932.3 965.2v24.4M2192.5 1645.6v-24.4M2192.5 965.2v24.4M113.3 1135.2h24.4M2450.2 1135.2h-24.4M113.3 1305.4h24.4M2450.2 1305.4h-24.4M113.3 1475.5h24.4M2450.2 1475.5h-24.4" stroke="#262626" stroke-width="6.9" fill="none"/>
<rect x="113.3" y="965.2" width="2336.9" height="680.4" fill="none" stroke="#262626" stroke-width="6.9"/>
<text class="tk" x="72.4" y="981.4" textLength="22.2" lengthAdjust="spacingAndGlyphs">2</text>
<text class="tk" x="72.4" y="1152.5" textLength="22.2" lengthAdjust="spacingAndGlyphs">1</text>
<text class="tk" x="72.4" y="1321.7" textLength="22.2" lengthAdjust="spacingAndGlyphs">0</text>
<text class="tk" x="59.1" y="1493.8" textLength="35.5" lengthAdjust="spacingAndGlyphs">-1</text>
<text class="tk" x="59.1" y="1664.4" textLength="35.5" lengthAdjust="spacingAndGlyphs">-2</text>
<text class="tk" x="61.0" y="1704.3" textLength="99.8" lengthAdjust="spacingAndGlyphs">01:00</text>
<text class="tk" x="321.2" y="1704.3" textLength="99.8" lengthAdjust="spacingAndGlyphs">01:05</text>
<text class="tk" x="581.4" y="1704.3" textLength="99.8" lengthAdjust="spacingAndGlyphs">01:10</text>
<text class="tk" x="841.6" y="1704.3" textLength="99.8" lengthAdjust="spacingAndGlyphs">01:15</text>
<text class="tk" x="1101.8" y="1704.3" textLength="99.8" lengthAdjust="spacingAndGlyphs">01:20</text>
<text class="tk" x="1362.0" y="1704.3" textLength="99.8" lengthAdjust="spacingAndGlyphs">01:25</text>
<text class="tk" x="1622.2" y="1704.3" textLength="99.8" lengthAdjust="spacingAndGlyphs">01:30</text>
<text class="tk" x="1882.4" y="1704.3" textLength="99.8" lengthAdjust="spacingAndGlyphs">01:35</text>
<text class="tk" x="2142.6" y="1704.3" textLength="99.8" lengthAdjust="spacingAndGlyphs">01:40</text>
<text class="tk" x="2400.8" y="1704.3" textLength="99.8" lengthAdjust="spacingAndGlyphs">01:45</text>
<text class="lb" transform="translate(36.6 1306.7) rotate(-90)" x="-133.5" y="0" textLength="267.0" lengthAdjust="spacingAndGlyphs">Wave profile</text>
<rect x="995.1" y="58.6" width="538.2" height="1483.3" fill="none" stroke="#0070c0" stroke-width="8.7"/>
<line x1="119.0" y1="1745.7" x2="119.0" y2="2067.0" stroke="#c00000" stroke-width="7.9" stroke-dasharray="7.9 8.85"/>
<line x1="278.5" y1="1743.8" x2="278.5" y2="1853.0" stroke="#c00000" stroke-width="7.9" stroke-dasharray="7.9 8.85"/>
<line x1="914.7" y1="1757.0" x2="914.7" y2="1866.0" stroke="#c00000" stroke-width="7.9" stroke-dasharray="7.9 8.85"/>
<line x1="1073.9" y1="1755.6" x2="1073.9" y2="1864.0" stroke="#c00000" stroke-width="7.9" stroke-dasharray="7.9 8.85"/>
<line x1="1673.8" y1="1757.0" x2="1673.8" y2="2045.0" stroke="#c00000" stroke-width="7.9" stroke-dasharray="7.9 8.85"/>
<line x1="1833.0" y1="1755.6" x2="1833.0" y2="1864.0" stroke="#c00000" stroke-width="7.9" stroke-dasharray="7.9 8.85"/>
<path d="M144.5 1792.2H250.5" stroke="#000" stroke-width="5.2" fill="none"/>
<path d="M123.8 1792.2l21.7 -7.5v15.0z M271.2 1792.2l-21.7 -7.5v15.0z" fill="#000"/>
<path d="M939.8 1803.6H1046.6" stroke="#000" stroke-width="5.2" fill="none"/>
<path d="M919.1 1803.6l21.7 -7.5v15.0z M1067.3 1803.6l-21.7 -7.5v15.0z" fill="#000"/>
<path d="M1698.9 1803.6H1805.5" stroke="#000" stroke-width="5.2" fill="none"/>
<path d="M1678.2 1803.6l21.7 -7.5v15.0z M1826.2 1803.6l-21.7 -7.5v15.0z" fill="#000"/>
<path d="M167.4 2000.0H1647.3" stroke="#000" stroke-width="5.2" fill="none"/>
<path d="M146.7 2000.0l21.7 -7.5v15.0z M1668.0 2000.0l-21.7 -7.5v15.0z" fill="#000"/>
<text class="an" x="154.3" y="1855.0" font-size="36" textLength="92.2" lengthAdjust="spacingAndGlyphs">ADCP</text>
<text class="an" x="137.9" y="1904.6" font-size="36" textLength="126.1" lengthAdjust="spacingAndGlyphs">Profiles</text>
<text class="an" x="949.8" y="1866.4" font-size="36" textLength="92.2" lengthAdjust="spacingAndGlyphs">ADCP</text>
<text class="an" x="934.1" y="1915.6" font-size="36" textLength="125.6" lengthAdjust="spacingAndGlyphs">Profiles</text>
<text class="an" x="1708.9" y="1866.4" font-size="36" textLength="91.9" lengthAdjust="spacingAndGlyphs">ADCP</text>
<text class="an" x="1693.0" y="1915.6" font-size="36" textLength="125.8" lengthAdjust="spacingAndGlyphs">Profiles</text>
<text class="an" x="506.7" y="1972.4" font-size="36" textLength="249.5" lengthAdjust="spacingAndGlyphs">Load Cell Burst</text>
</svg>
</body></html>
